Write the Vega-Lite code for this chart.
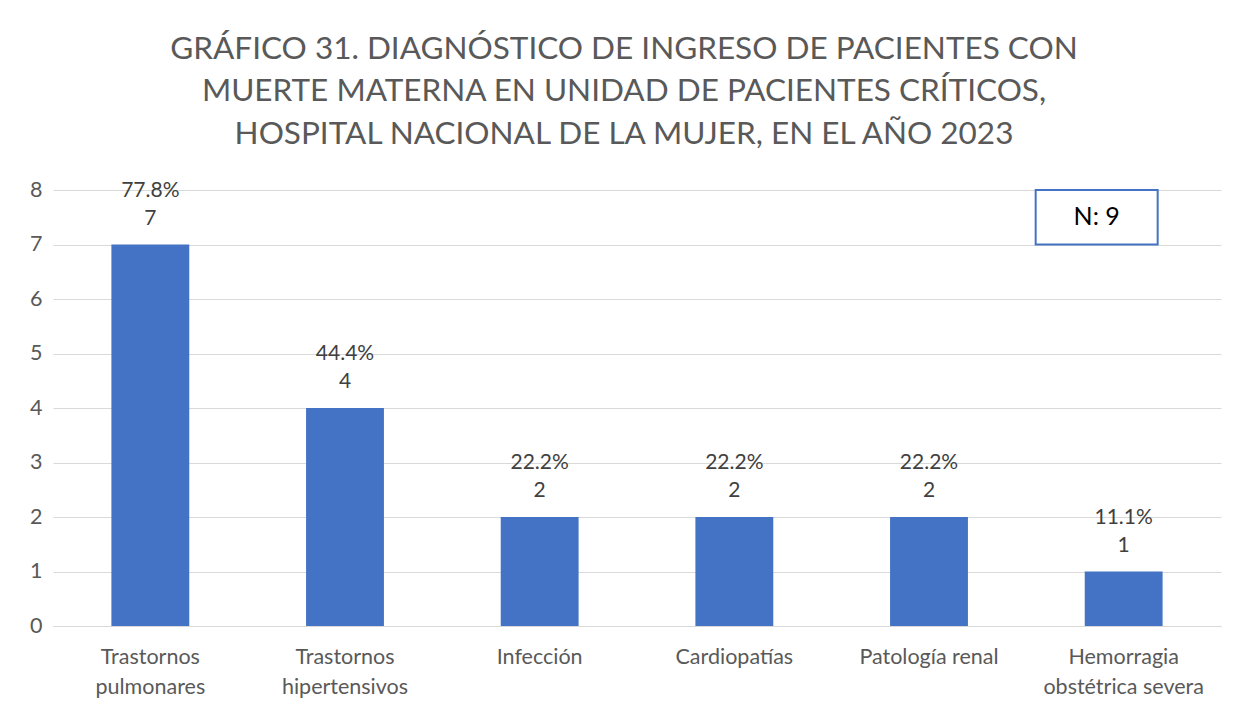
{
  "$schema": "https://vega.github.io/schema/vega-lite/v6.json",
  "width": 1168,
  "height": 436,
  "autosize": {"type": "none"},
  "padding": {"left": 53, "top": 190, "right": 28, "bottom": 91},
  "background": "white",
  "title": {
    "text": ["GRÁFICO 31. DIAGNÓSTICO DE INGRESO DE PACIENTES CON", "MUERTE MATERNA EN UNIDAD DE PACIENTES CRÍTICOS,", "HOSPITAL NACIONAL DE LA MUJER, EN EL AÑO 2023"],
    "font": "Lato",
    "fontSize": 31.5,
    "fontWeight": "normal",
    "color": "#595959",
    "lineHeight": 42.5,
    "anchor": "middle",
    "dx": -13,
    "offset": 29
  },
  "config": {
    "view": {"stroke": null},
    "font": "Lato",
    "axis": {"labelFont": "Lato", "labelColor": "#595959", "labelFontSize": 21.5}
  },
  "data": {
    "values": [
      {"cat": "Trastornos|pulmonares", "n": 7, "pct": "77.8%"},
      {"cat": "Trastornos|hipertensivos", "n": 4, "pct": "44.4%"},
      {"cat": "Infección", "n": 2, "pct": "22.2%"},
      {"cat": "Cardiopatías", "n": 2, "pct": "22.2%"},
      {"cat": "Patología renal", "n": 2, "pct": "22.2%"},
      {"cat": "Hemorragia|obstétrica severa", "n": 1, "pct": "11.1%"}
    ]
  },
  "encoding": {
    "x": {
      "field": "cat", "type": "nominal", "sort": null,
      "scale": {"paddingInner": 0.6, "paddingOuter": 0.3},
      "axis": {"title": null, "labelAngle": 0, "ticks": false, "domainColor": "#d9d9d9", "labelPadding": 31, "labelLineHeight": 30, "labelExpr": "split(datum.label, '|')", "labelBaseline": "middle"}
    },
    "y": {
      "field": "n", "type": "quantitative",
      "scale": {"domain": [0, 8]},
      "axis": {"title": null, "tickCount": 9, "values": [0,1,2,3,4,5,6,7,8], "labelOverlap": false, "grid": true, "gridColor": "#d9d9d9", "domain": false, "ticks": false, "labelPadding": 11}
    }
  },
  "layer": [
    {"mark": {"type": "bar", "color": "#4472C4"}},
    {"mark": {"type": "text", "fontSize": 21, "color": "#404040", "dy": -26, "baseline": "middle"}, "encoding": {"text": {"field": "n"}}},
    {"mark": {"type": "text", "fontSize": 21, "color": "#404040", "dy": -54, "baseline": "middle"}, "encoding": {"text": {"field": "pct"}}},
    {
      "data": {"values": [{"cat": "Hemorragia|obstétrica severa", "top": 8, "bottom": 7, "label": "N: 9"}]},
      "layer": [
        {"mark": {"type": "bar", "fill": "white", "stroke": "#4472C4", "strokeWidth": 2, "width": 122, "xOffset": -27}, "encoding": {"y": {"field": "top", "type": "quantitative", "axis": {"title": null, "tickCount": 9, "values": [0,1,2,3,4,5,6,7,8], "labelOverlap": false, "grid": true, "gridColor": "#d9d9d9", "domain": false, "ticks": false, "labelPadding": 11}}, "y2": {"field": "bottom"}}},
        {"mark": {"type": "text", "fontSize": 25, "color": "black", "xOffset": -27, "yOffset": 27, "baseline": "middle"}, "encoding": {"y": {"field": "top", "type": "quantitative", "axis": {"title": null, "tickCount": 9, "values": [0,1,2,3,4,5,6,7,8], "labelOverlap": false, "grid": true, "gridColor": "#d9d9d9", "domain": false, "ticks": false, "labelPadding": 11}}, "text": {"field": "label"}}}
      ]
    }
  ]
}
